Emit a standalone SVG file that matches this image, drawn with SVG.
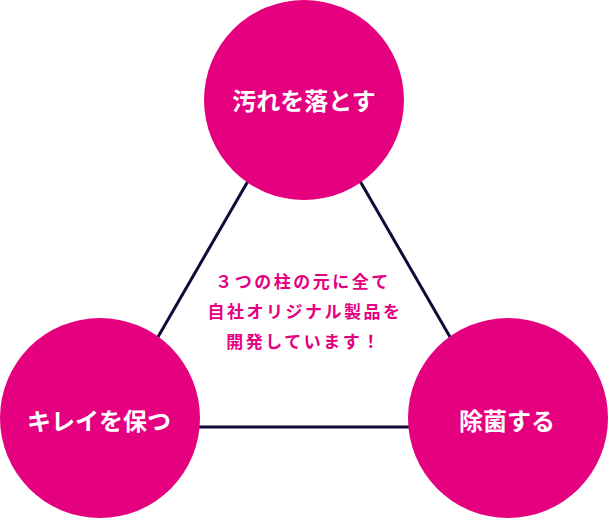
<svg xmlns="http://www.w3.org/2000/svg" width="608" height="519" viewBox="0 0 608 519">
<style>
.node{fill:#e4007f}
.lbl{fill:#ffffff;font-family:"Noto Sans CJK JP","Noto Sans",sans-serif;font-weight:700;font-size:24px;text-anchor:middle;dominant-baseline:central}
.edge{stroke:#0f0c35;stroke-width:3;fill:none}
.mid{fill:#e4007f;font-family:"Noto Sans CJK JP","Noto Sans",sans-serif;font-weight:700;font-size:17px;letter-spacing:2.5px;text-anchor:middle;dominant-baseline:central}
</style>
<rect width="608" height="519" fill="#ffffff"/>
<g id="connectors">
<line class="edge" x1="304" y1="84" x2="106" y2="427"/>
<line class="edge" x1="304" y1="84" x2="502" y2="427"/>
<line class="edge" x1="106" y1="427" x2="502" y2="427"/>
</g>
<g id="center-text">
<text class="mid" x="303" y="280">３つの柱の元に全て</text>
<text class="mid" x="305" y="310">自社オリジナル製品を</text>
<text class="mid" x="304" y="340">開発しています！</text>
</g>
<g id="node-top">
<circle class="node" cx="304" cy="100" r="100"/>
<text class="lbl" x="304" y="99">汚れを落とす</text>
</g>
<g id="node-left">
<circle class="node" cx="100" cy="418" r="100"/>
<text class="lbl" x="99" y="419">キレイを保つ</text>
</g>
<g id="node-right">
<circle class="node" cx="508" cy="418" r="100"/>
<text class="lbl" x="507" y="419">除菌する</text>
</g>
</svg>
